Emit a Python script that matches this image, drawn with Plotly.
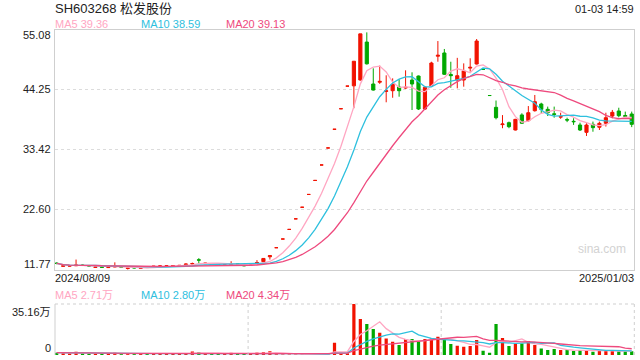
import plotly.graph_objects as go
import pandas as pd

# ---------------- data ----------------
title_text = "SH603268 松发股份"
time_text = "01-03 14:59"
start_date = "2024/08/09"
end_date = "2025/01/03"

open_ = [12.95, 12.40, 12.42, 12.48, 12.60, 12.52, 12.18, 12.26, 12.15, 12.25,
         12.30, 12.00, 12.15, 12.02, 12.22, 12.32, 12.38, 12.40, 12.45, 12.48,
         12.70, 12.80, 13.55, 12.85, 12.80, 12.68, 12.58, 12.62, 12.85, 12.55,
         12.55, 12.95, 13.22, 14.10, 15.74, 17.31, 19.04, 20.95, 23.04, 25.35,
         27.88, 30.67, 33.74, 37.11, 40.82, 44.90, 44.95, 46.00, 52.85, 45.28,
         45.60, 43.95, 44.07, 44.74, 44.55, 46.00, 46.72, 40.77, 44.92, 50.30,
         50.88, 47.00, 46.00, 46.00, 48.15, 48.89, 47.90, 43.20, 41.07, 37.95,
         38.30, 36.98, 39.70, 38.66, 40.46, 41.67, 40.71, 39.90, 39.30, 38.85,
         38.55, 37.88, 36.56, 38.00, 37.47, 38.19, 39.50, 40.41, 39.60, 39.87]

high = [13.10, 12.50, 12.52, 13.60, 12.70, 12.58, 12.28, 12.32, 12.28, 13.10,
        12.38, 12.10, 12.22, 12.10, 12.30, 12.45, 12.55, 12.55, 12.55, 12.62,
        12.90, 13.05, 13.85, 13.00, 12.90, 12.75, 12.70, 13.30, 12.95, 12.60,
        12.70, 13.50, 13.85, 14.40, 15.74, 17.31, 19.04, 20.95, 23.04, 25.35,
        27.88, 30.67, 33.74, 37.11, 40.82, 44.90, 49.39, 54.33, 54.60, 48.11,
        48.60, 46.85, 46.30, 46.13, 47.75, 47.39, 46.80, 44.92, 49.30, 53.03,
        51.60, 49.30, 50.00, 49.00, 49.92, 53.40, 47.90, 43.20, 42.30, 39.67,
        38.50, 39.00, 40.00, 41.30, 43.30, 41.90, 41.20, 41.20, 40.10, 39.20,
        39.10, 38.30, 38.20, 38.50, 38.50, 40.10, 40.60, 41.00, 40.30, 40.30]

low = [12.75, 12.35, 12.38, 12.45, 12.45, 12.38, 12.10, 12.08, 12.10, 12.20,
       12.15, 11.77, 12.00, 11.90, 12.10, 12.25, 12.30, 12.35, 12.40, 12.42,
       12.60, 12.70, 12.80, 12.80, 12.65, 12.55, 12.52, 12.58, 12.70, 12.40,
       12.50, 12.90, 13.15, 13.60, 15.74, 17.31, 19.04, 20.95, 23.04, 25.35,
       27.88, 30.67, 33.74, 37.11, 40.82, 44.90, 40.90, 45.90, 48.80, 44.10,
       45.30, 41.98, 42.80, 42.99, 44.40, 40.59, 40.60, 40.60, 44.85, 49.30,
       46.90, 44.60, 44.50, 44.80, 47.50, 48.80, 47.90, 43.20, 38.90, 37.30,
       37.30, 36.90, 38.10, 38.50, 40.30, 40.00, 39.50, 39.20, 39.00, 38.40,
       37.90, 36.80, 35.90, 36.67, 36.98, 37.60, 39.10, 39.27, 39.10, 37.50]

close = [12.90, 12.46, 12.47, 12.62, 12.55, 12.44, 12.24, 12.20, 12.22, 12.35,
         12.22, 12.06, 12.10, 12.06, 12.16, 12.40, 12.45, 12.47, 12.50, 12.55,
         12.78, 12.88, 13.50, 12.95, 12.72, 12.60, 12.64, 12.68, 12.80, 12.49,
         12.62, 13.05, 13.80, 14.31, 15.74, 17.31, 19.04, 20.95, 23.04, 25.35,
         27.88, 30.67, 33.74, 37.11, 40.82, 44.90, 49.39, 54.33, 48.92, 44.19,
         45.75, 44.05, 45.23, 44.07, 44.68, 45.28, 40.77, 44.68, 49.07, 50.46,
         47.03, 46.78, 46.78, 47.63, 48.29, 53.04, 47.90, 43.20, 39.20, 38.06,
         37.58, 38.90, 38.20, 40.10, 42.09, 40.71, 40.10, 39.80, 39.40, 38.78,
         38.48, 36.98, 37.88, 37.40, 38.19, 39.20, 40.17, 39.56, 39.45, 38.00]

# volume in 万 (10k shares)
volume = [1.6, 1.2, 1.0, 2.2, 1.1, 0.9, 0.9, 0.8, 0.8, 1.5,
          0.9, 1.0, 0.8, 0.9, 0.8, 0.9, 1.0, 0.9, 0.8, 1.0,
          1.4, 2.4, 2.0, 1.2, 1.0, 0.9, 0.9, 1.6, 1.1, 0.9,
          0.9, 1.8, 2.0, 2.6, 0.6, 0.4, 0.3, 0.3, 0.3, 0.3,
          0.4, 0.5, 0.6, 8.5, 1.0, 1.2, 35.16, 24.8, 21.4, 17.9,
          15.4, 11.3, 9.2, 6.9, 11.0, 11.0, 9.7, 11.0, 11.5, 12.6,
          11.0, 7.6, 6.4, 5.7, 6.2, 10.3, 3.0, 1.6, 21.4, 11.7,
          6.2, 8.0, 8.0, 9.7, 6.9, 4.4, 3.4, 4.1, 3.4, 3.4,
          2.8, 3.4, 3.4, 2.3, 3.0, 3.0, 3.0, 2.5, 2.5, 2.5]

price_ticks = [55.08, 44.25, 33.42, 22.60, 11.77]
price_tick_labels = ["55.08", "44.25", "33.42", "22.60", "11.77"]
vol_max = 35.16
vol_tick_labels = ["35.16万", "0"]
ma_windows = [5, 10, 20]
price_ma_labels = ["MA5 39.36", "MA10 38.59", "MA20 39.13"]
vol_ma_labels = ["MA5 2.71万", "MA10 2.80万", "MA20 4.34万"]

# ---------------- style ----------------
UP = "#f11200"
DOWN = "#00a800"
MA_COLORS = ["#ffa6c2", "#2ec0de", "#ee4a7e"]
FONT = "Arial, 'Liberation Sans', 'Noto Sans CJK SC', sans-serif"
W, H = 640, 360

idx = list(range(len(close)))
cs = pd.Series(close)
vs = pd.Series(volume)

# volume bar colours follow the candle direction
vcolors = []
for i in idx:
    if close[i] > open_[i]:
        vcolors.append(UP)
    elif close[i] < open_[i]:
        vcolors.append(DOWN)
    else:
        prev = close[i - 1] if i > 0 else close[i]
        vcolors.append(UP if close[i] >= prev else DOWN)

def px(x):
    return x / W

def py(y):
    return 1 - y / H

fig = go.Figure()

fig.add_trace(go.Candlestick(
    x=idx, open=open_, high=high, low=low, close=close,
    increasing=dict(line=dict(color=UP, width=1), fillcolor=UP),
    decreasing=dict(line=dict(color=DOWN, width=1), fillcolor=DOWN),
    whiskerwidth=0, xaxis="x", yaxis="y", hoverinfo="skip", showlegend=False))

for w, c in zip(ma_windows, MA_COLORS):
    fig.add_trace(go.Scatter(
        x=idx, y=cs.rolling(w, min_periods=1).mean(), mode="lines",
        line=dict(color=c, width=1.3), xaxis="x", yaxis="y",
        hoverinfo="skip", showlegend=False))

fig.add_trace(go.Bar(
    x=idx, y=volume, marker=dict(color=vcolors, line=dict(width=0)),
    width=0.5, xaxis="x2", yaxis="y2", hoverinfo="skip", showlegend=False))

for w, c in zip(ma_windows, MA_COLORS):
    fig.add_trace(go.Scatter(
        x=idx, y=vs.rolling(w, min_periods=1).mean(), mode="lines",
        line=dict(color=c, width=1.3), xaxis="x2", yaxis="y2",
        hoverinfo="skip", showlegend=False))

X0, X1 = px(55), px(634.3)
xr = [-0.26, len(close) - 1 + 0.4]

fig.update_layout(
    width=W, height=H, margin=dict(l=0, r=0, t=0, b=0),
    paper_bgcolor="white", plot_bgcolor="white", showlegend=False,
    font=dict(family=FONT, color="#333333", size=11),
    bargap=0.3,
    xaxis=dict(domain=[X0, X1], range=xr, anchor="y", showgrid=False,
               showticklabels=False, zeroline=False, showline=True,
               mirror=True, linecolor="#cfcfcf", linewidth=1,
               rangeslider=dict(visible=False), fixedrange=True),
    yaxis=dict(domain=[py(269.7), py(29.7)], range=[price_ticks[-1], price_ticks[0]],
               anchor="x", tickvals=price_ticks[1:-1], showticklabels=False,
               showgrid=True, gridcolor="#dcdcdc", griddash="dot", gridwidth=1,
               zeroline=False, showline=True, mirror=True,
               linecolor="#cfcfcf", linewidth=1, fixedrange=True),
    xaxis2=dict(domain=[X0, X1], range=xr, anchor="y2", showgrid=False,
                showticklabels=False, zeroline=False, showline=False,
                fixedrange=True),
    yaxis2=dict(domain=[py(355), py(304)], range=[0, vol_max], anchor="x2",
                showgrid=False, showticklabels=False, zeroline=False,
                showline=False, fixedrange=True),
)

# volume panel frame
grid_dot = dict(color="#cfcfcf", width=1, dash="dot")
shapes = [
    dict(type="line", xref="x2 domain", yref="y2 domain", x0=0, x1=1, y0=1, y1=1, line=grid_dot),
    dict(type="line", xref="x2 domain", yref="y2 domain", x0=1, x1=1, y0=0, y1=1, line=grid_dot),
    dict(type="line", xref="x2 domain", yref="y2 domain", x0=1 / 3, x1=1 / 3, y0=0, y1=1, line=grid_dot),
    dict(type="line", xref="x2 domain", yref="y2 domain", x0=2 / 3, x1=2 / 3, y0=0, y1=1, line=grid_dot),
    dict(type="line", xref="x2 domain", yref="y2 domain", x0=0, x1=0, y0=0, y1=1,
         line=dict(color="#cfcfcf", width=1)),
]
fig.update_layout(shapes=shapes)

ann = []

def text(x, y, s, anchor="left", size=11, color="#333333"):
    ann.append(dict(x=px(x), y=py(y), xref="paper", yref="paper", text=s,
                    showarrow=False, xanchor=anchor, yanchor="middle",
                    font=dict(size=size, color=color, family=FONT),
                    borderpad=0))

text(54, 8, title_text, size=13, color="#222222")
text(635, 8.5, time_text, anchor="right", size=11, color="#222222")
for xpos, s, c in zip([54, 140, 225], price_ma_labels, MA_COLORS):
    text(xpos, 24.5, s, size=11, color=c)
for lab, ypix in zip(price_tick_labels, [35.5, 89, 149, 209, 263.5]):
    text(52, ypix, lab, anchor="right", size=11, color="#222222")
text(54, 278, start_date, size=11, color="#222222")
text(635, 278, end_date, anchor="right", size=11, color="#222222")
for xpos, s, c in zip([54, 140, 225], vol_ma_labels, MA_COLORS):
    text(xpos, 295, s, size=11, color=c)
text(52, 311.5, vol_tick_labels[0], anchor="right", size=11, color="#222222")
text(52, 348, vol_tick_labels[1], anchor="right", size=11, color="#222222")
text(602, 249, "sina.com", anchor="center", size=12, color="#d2d2d2")

fig.update_layout(annotations=ann)

fig.write_html("out.html",
               config={"displayModeBar": False, "staticPlot": True},
               post_script="document.body.style.margin='0';document.body.style.overflow='hidden';")
